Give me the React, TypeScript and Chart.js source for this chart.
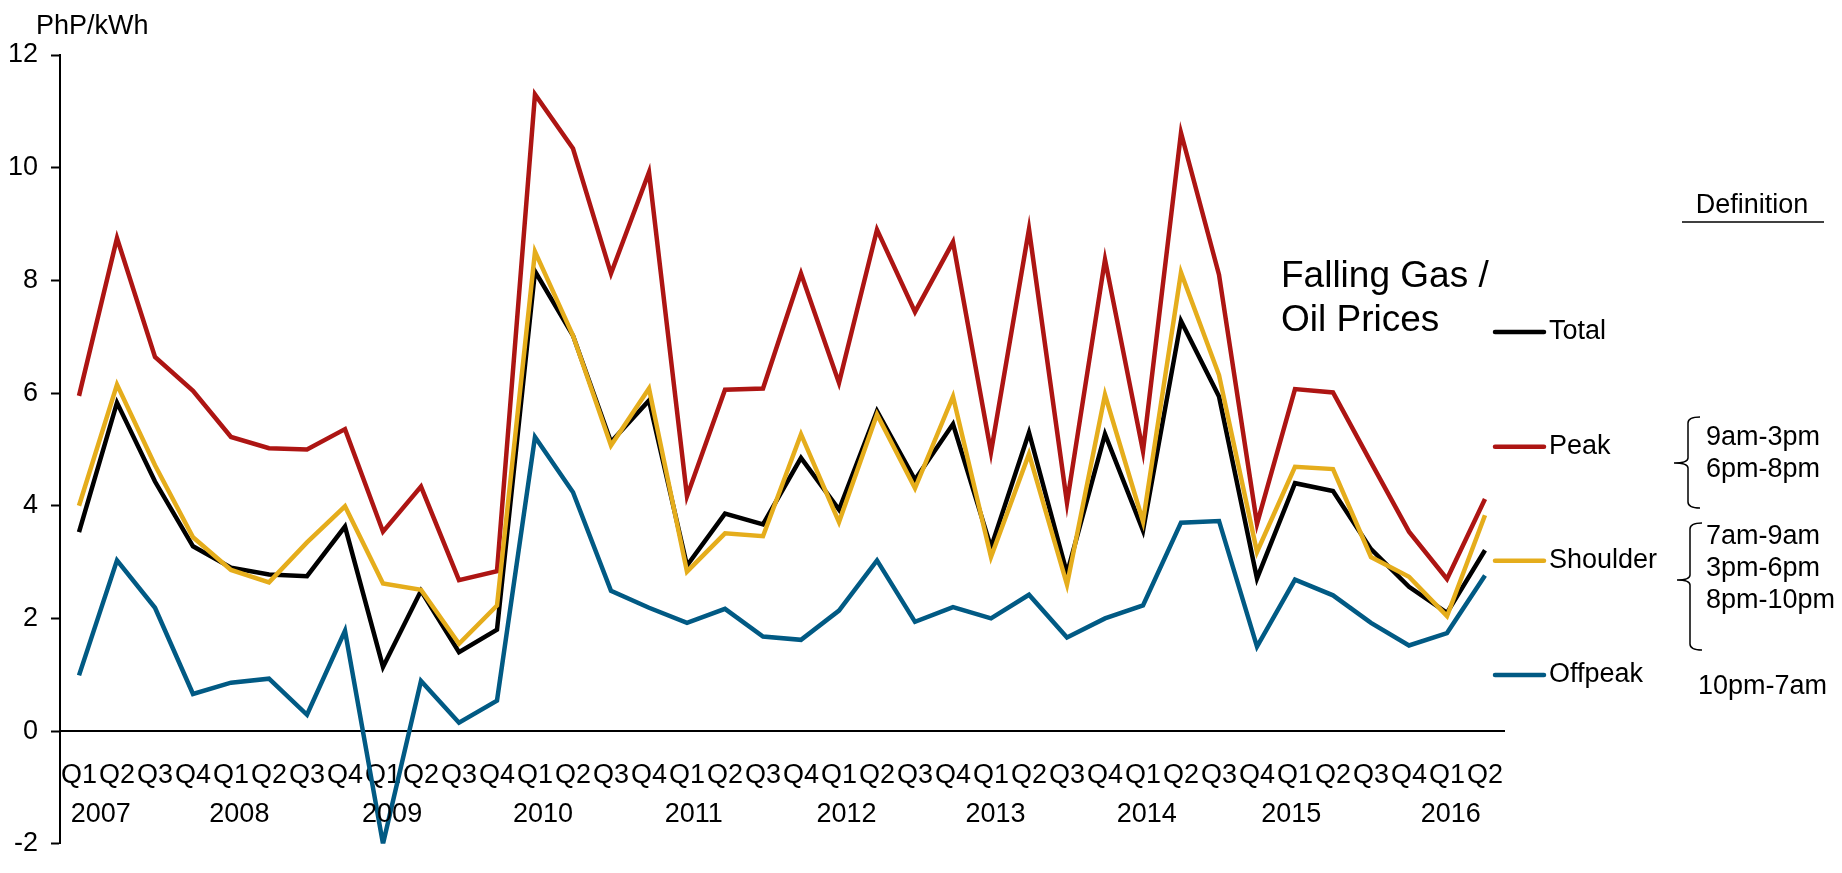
import React, { useEffect, useRef } from "react";
import { Chart, registerables } from "chart.js";

Chart.register(...registerables);

const quarterLabels = [
  "Q1", "Q2", "Q3", "Q4", "Q1", "Q2", "Q3", "Q4", "Q1", "Q2", "Q3", "Q4",
  "Q1", "Q2", "Q3", "Q4", "Q1", "Q2", "Q3", "Q4", "Q1", "Q2", "Q3", "Q4",
  "Q1", "Q2", "Q3", "Q4", "Q1", "Q2", "Q3", "Q4", "Q1", "Q2", "Q3", "Q4",
  "Q1", "Q2",
];
const yearLabels = ["2007", "2008", "2009", "2010", "2011", "2012", "2013", "2014", "2015", "2016"];
// position of each year label, in category units along the x axis
const yearPositions = [0.57, 4.22, 8.24, 12.21, 16.18, 20.2, 24.12, 28.1, 31.9, 36.1];

const total = [
  3.53, 5.83, 4.43, 3.28, 2.9, 2.78, 2.75, 3.63, 1.14, 2.49, 1.4, 1.8,
  8.16, 7.02, 5.13, 5.87, 2.94, 3.86, 3.67, 4.85, 3.93, 5.68, 4.46, 5.45,
  3.26, 5.3, 2.8, 5.27, 3.56, 7.28, 5.94, 2.71, 4.4, 4.26, 3.23, 2.56, 2.1, 3.21,
];
const peak = [
  5.95, 8.75, 6.64, 6.04, 5.22, 5.02, 5.0, 5.36, 3.54, 4.34, 2.68, 2.84,
  11.3, 10.34, 8.12, 9.92, 4.17, 6.06, 6.08, 8.12, 6.18, 8.9, 7.44, 8.68,
  4.95, 8.91, 4.05, 8.37, 4.97, 10.62, 8.1, 3.68, 6.07, 6.01, 4.77, 3.54, 2.7, 4.12,
];
const shoulder = [
  4.0, 6.15, 4.72, 3.44, 2.86, 2.64, 3.35, 3.99, 2.62, 2.51, 1.55, 2.23,
  8.51, 7.02, 5.07, 6.08, 2.83, 3.51, 3.46, 5.27, 3.71, 5.62, 4.31, 5.94,
  3.09, 4.92, 2.6, 5.97, 3.72, 8.14, 6.32, 3.18, 4.69, 4.65, 3.09, 2.74, 2.04, 3.83,
];
const offpeak = [
  0.99, 3.03, 2.19, 0.66, 0.86, 0.93, 0.29, 1.78, -2.0, 0.89, 0.15, 0.54,
  5.22, 4.24, 2.49, 2.19, 1.92, 2.17, 1.68, 1.62, 2.14, 3.03, 1.94, 2.2,
  2.0, 2.42, 1.66, 2.0, 2.23, 3.7, 3.73, 1.5, 2.69, 2.41, 1.92, 1.52, 1.74, 2.76,
];

const seriesNames = ["Total", "Peak", "Shoulder", "Offpeak"];
const seriesColors = ["#000000", "#AD1513", "#E5AD1C", "#015A84"];

const yAxisTitle = "PhP/kWh";
const yMin = -2;
const yMax = 12;
const yStep = 2;

const annotationLines = ["Falling Gas /", "Oil Prices"];
const definitionTitle = "Definition";
const peakHours = ["9am-3pm", "6pm-8pm"];
const shoulderHours = ["7am-9am", "3pm-6pm", "8pm-10pm"];
const offpeakHours = ["10pm-7am"];

const FONT = '"Liberation Sans", Arial, Helvetica, sans-serif';
const TEXT_SIZE = 27;

function drawBrace(ctx: CanvasRenderingContext2D, xv: number, xEnd: number, xTip: number, top: number, mid: number, bottom: number) {
  ctx.beginPath();
  ctx.moveTo(xEnd, top);
  ctx.quadraticCurveTo(xv, top, xv, top + 6);
  ctx.lineTo(xv, mid - 5);
  ctx.quadraticCurveTo(xv, mid, xTip, mid);
  ctx.quadraticCurveTo(xv, mid, xv, mid + 5);
  ctx.lineTo(xv, bottom - 6);
  ctx.quadraticCurveTo(xv, bottom, xEnd, bottom);
  ctx.stroke();
}

const overlayPlugin = {
  id: "overlay",
  afterDraw(chart: any) {
    const ctx: CanvasRenderingContext2D = chart.ctx;
    const xs = chart.scales.x;
    ctx.save();
    ctx.fillStyle = "#000";
    ctx.strokeStyle = "#000";

    // y-axis unit title
    ctx.font = `${TEXT_SIZE}px ${FONT}`;
    ctx.textAlign = "left";
    ctx.textBaseline = "alphabetic";
    ctx.fillText(yAxisTitle, 36, 34);

    // year labels beneath the quarter labels
    const p0 = xs.getPixelForValue(0);
    const step = xs.getPixelForValue(1) - p0;
    ctx.textAlign = "center";
    ctx.textBaseline = "middle";
    yearLabels.forEach((y, i) => {
      ctx.fillText(y, p0 + yearPositions[i] * step, 815);
    });

    // annotation
    ctx.font = `37px ${FONT}`;
    ctx.textAlign = "left";
    ctx.textBaseline = "alphabetic";
    annotationLines.forEach((t, i) => ctx.fillText(t, 1281, 287 + i * 43.5));

    // legend
    const legendY = [332, 446.7, 560.7, 675];
    chart.data.datasets.forEach((ds: any, i: number) => {
      ctx.strokeStyle = ds.borderColor;
      ctx.lineWidth = 4.5;
      ctx.lineCap = "round";
      ctx.beginPath();
      ctx.moveTo(1495, legendY[i]);
      ctx.lineTo(1544, legendY[i]);
      ctx.stroke();
      ctx.fillStyle = "#000";
      ctx.font = `${TEXT_SIZE}px ${FONT}`;
      ctx.textAlign = "left";
      ctx.textBaseline = "middle";
      ctx.fillText(ds.label, 1549, legendY[i]);
    });

    // definitions
    ctx.fillStyle = "#000";
    ctx.strokeStyle = "#000";
    ctx.font = `${TEXT_SIZE}px ${FONT}`;
    ctx.textAlign = "center";
    ctx.textBaseline = "alphabetic";
    ctx.fillText(definitionTitle, 1752, 213);
    ctx.lineWidth = 1.5;
    ctx.lineCap = "butt";
    ctx.beginPath();
    ctx.moveTo(1682, 222);
    ctx.lineTo(1824, 222);
    ctx.stroke();

    ctx.textAlign = "left";
    ctx.textBaseline = "middle";
    peakHours.forEach((t, i) => ctx.fillText(t, 1706, 438 + i * 32));
    shoulderHours.forEach((t, i) => ctx.fillText(t, 1706, 537 + i * 32));
    offpeakHours.forEach((t) => ctx.fillText(t, 1698, 687));

    ctx.lineWidth = 1.5;
    drawBrace(ctx, 1688, 1700, 1674, 417, 463, 508);
    drawBrace(ctx, 1690, 1702, 1677, 523, 580, 650);

    ctx.restore();
  },
};

export default function App() {
  const canvasRef = useRef<HTMLCanvasElement | null>(null);

  useEffect(() => {
    const canvas = canvasRef.current;
    if (!canvas) return;
    const values = [total, peak, shoulder, offpeak];
    const chart = new Chart(canvas, {
      type: "line",
      data: {
        labels: quarterLabels,
        datasets: values.map((v, i) => ({
          label: seriesNames[i],
          data: v,
          borderColor: seriesColors[i],
          backgroundColor: seriesColors[i],
          borderWidth: 4.5,
          pointRadius: 0,
          pointHoverRadius: 0,
          tension: 0,
          fill: false,
          order: 4 - i,
        })),
      },
      options: {
        animation: false,
        responsive: true,
        maintainAspectRatio: false,
        events: [],
        layout: { padding: { top: 55, left: 0, right: 338, bottom: 17.5 } },
        plugins: {
          legend: { display: false },
          tooltip: { enabled: false },
          title: { display: false },
        },
        scales: {
          x: {
            type: "category",
            position: { y: 0 },
            offset: true,
            grid: { display: true, drawOnChartArea: false, drawTicks: false },
            border: { display: true, color: "#000", width: 2 },
            ticks: {
              autoSkip: false,
              maxRotation: 0,
              minRotation: 0,
              padding: 28,
              color: "#000",
              font: { family: FONT, size: TEXT_SIZE },
            },
          },
          y: {
            type: "linear",
            min: yMin,
            max: yMax,
            afterFit: (scale: any) => {
              scale.width = 60;
            },
            grid: {
              display: true,
              drawOnChartArea: false,
              drawTicks: true,
              tickLength: 9,
              tickColor: "#000",
              tickWidth: 2,
            },
            border: { display: true, color: "#000", width: 2 },
            ticks: {
              stepSize: yStep,
              padding: 13,
              color: "#000",
              font: { family: FONT, size: TEXT_SIZE },
              callback: (v: any) => String(v),
            },
          },
        },
      },
      plugins: [overlayPlugin],
    });
    return () => chart.destroy();
  }, []);

  return (
    <div style={{ position: "absolute", left: 0, top: 0, width: 1842, height: 873, background: "#fff" }}>
      <canvas ref={canvasRef} />
    </div>
  );
}
